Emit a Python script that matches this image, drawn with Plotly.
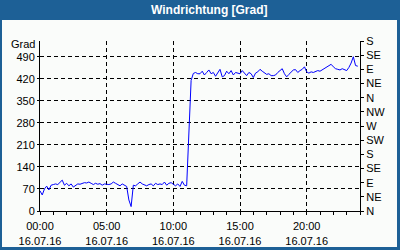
import plotly.graph_objects as go

# hours since 00:00 (10-minute steps)
hours = [i / 6 for i in range(144)]

direction = [
    64, 51, 70, 79, 67, 82,
    84, 86, 84, 90, 98, 82,
    88, 80, 86, 76, 82, 86,
    85, 88, 90, 89, 92, 88,
    84, 88, 85, 87, 82, 86,
    85, 84, 86, 92, 88, 84,
    80, 86, 82, 78, 35, 14,
    82, 80, 86, 92, 86, 84,
    80, 84, 86, 80, 88, 84,
    86, 84, 92, 82, 88, 90,
    84, 80, 86, 78, 94, 82,
    80, 272, 415, 437, 440, 436,
    436, 444, 432, 440, 448, 436,
    440, 428, 438, 450, 426, 430,
    444, 436, 446, 432, 440, 438,
    436, 446, 438, 430, 440, 436,
    424, 438, 442, 450, 444, 440,
    434, 436, 430, 430, 432, 440,
    446, 452, 436, 426, 434, 440,
    448, 449, 440, 446, 450, 458,
    442, 438, 442, 440, 444, 446,
    444, 448, 452, 456, 462, 466,
    458, 452, 450, 448, 452, 450,
    446, 456, 470, 490, 462, 460,
]

x_tickvals = [0, 5, 10, 15, 20]
x_ticktext = ["00:00<br>16.07.16", "05:00<br>16.07.16", "10:00<br>16.07.16",
              "15:00<br>16.07.16", "20:00<br>16.07.16"]
y_tickvals = [0, 70, 140, 210, 280, 350, 420, 490]
compass_vals = [0, 45, 90, 135, 180, 225, 270, 315, 360, 405, 450, 495, 540]
compass_text = ["N", "NE", "E", "SE", "S", "SW", "W", "NW", "N", "NE", "E", "SE", "S"]

W, H = 400, 250
L, R, T, B = 40, 40, 41, 39
frame = "#1d6096"
inner = "#fafcfa"
font = "Liberation Sans, Arial, sans-serif"

fig = go.Figure()
fig.add_trace(go.Scatter(x=hours, y=direction, mode="lines",
                         line=dict(color="#0000ff", width=1), showlegend=False))
fig.add_trace(go.Scatter(x=[0], y=[0], yaxis="y2", mode="markers",
                         marker=dict(opacity=0), showlegend=False, hoverinfo="skip"))

pw, ph = W - L - R, H - T - B
def px(xp):
    return (xp - L) / pw
def py(yp):
    return (H - B - yp) / ph

shapes = [
    dict(type="rect", xref="paper", yref="paper", x0=px(0), x1=px(W), y0=py(20), y1=py(0),
         fillcolor=frame, line_width=0, layer="above"),
    dict(type="rect", xref="paper", yref="paper", x0=px(0), x1=px(2), y0=py(H), y1=py(0),
         fillcolor=frame, line_width=0, layer="above"),
    dict(type="rect", xref="paper", yref="paper", x0=px(397), x1=px(W), y0=py(H), y1=py(0),
         fillcolor=frame, line_width=0, layer="above"),
    dict(type="rect", xref="paper", yref="paper", x0=px(0), x1=px(W), y0=py(H), y1=py(247),
         fillcolor=frame, line_width=0, layer="above"),
]

fig.update_layout(
    width=W, height=H,
    margin=dict(l=L, r=R, t=T, b=B, pad=0),
    paper_bgcolor=inner, plot_bgcolor=inner,
    font=dict(family=font, size=11, color="black"),
    shapes=shapes,
    annotations=[
        dict(text="<b>Windrichtung [Grad]</b>", xref="paper", yref="paper",
             x=px(209.5), y=py(10), xanchor="center", yanchor="middle",
             showarrow=False, font=dict(color="white", size=12, family=font)),
        dict(text="Grad", xref="paper", yref="paper", x=px(37), y=py(44),
             xanchor="right", yanchor="middle", showarrow=False,
             font=dict(size=11, family=font)),
    ],
    xaxis=dict(range=[0, 24], tickvals=x_tickvals, ticktext=x_ticktext,
               showline=True, linecolor="black", linewidth=1, automargin=False,
               ticks="outside", ticklen=3, tickcolor="black", ticklabelstandoff=2,
               showgrid=True, gridcolor="black", griddash="4px,3px", gridwidth=1,
               minor=dict(dtick=1, ticks="outside", ticklen=3, tickcolor="black", showgrid=False),
               zeroline=False, fixedrange=True),
    yaxis=dict(range=[0, 540], tickvals=y_tickvals, automargin=False,
               showline=True, linecolor="black", linewidth=1,
               ticks="outside", ticklen=2, tickcolor="black",
               showgrid=True, gridcolor="black", griddash="4px,3px", gridwidth=1,
               zeroline=False, fixedrange=True),
    yaxis2=dict(range=[0, 540], tickvals=compass_vals, ticktext=compass_text,
                overlaying="y", side="right", automargin=False,
                showline=True, linecolor="black", linewidth=1,
                ticks="outside", ticklen=3, tickcolor="black",
                showgrid=False, zeroline=False, fixedrange=True),
)

fig.write_html("out.html")
